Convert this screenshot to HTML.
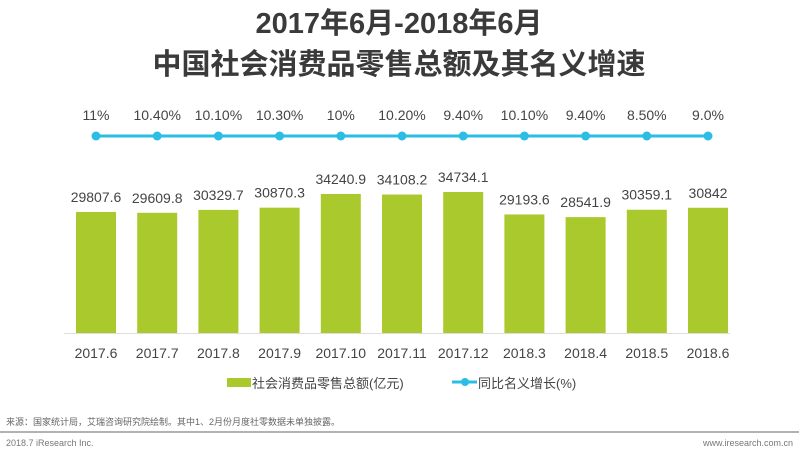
<!DOCTYPE html>
<html><head><meta charset="utf-8"><style>
body{margin:0;background:#fff;width:799px;height:458px;overflow:hidden;font-family:"Liberation Sans","Noto Sans CJK SC",sans-serif;}
</style></head><body>
<svg width="799" height="458" xmlns="http://www.w3.org/2000/svg" font-family="Liberation Sans, Noto Sans CJK SC, sans-serif">
<text x="399" y="33" text-anchor="middle" font-size="29" font-weight="bold" fill="#3a3a3a">2017年6月-2018年6月</text>
<text x="399" y="74" text-anchor="middle" font-size="29" font-weight="bold" fill="#3a3a3a">中国社会消费品零售总额及其名义增速</text>
<line x1="96" y1="136" x2="708" y2="136" stroke="#2bbde3" stroke-width="3"/>
<g id="c"></g>
<line x1="64" y1="333.5" x2="730" y2="333.5" stroke="#ddd" stroke-width="1"/>
<rect x="227" y="378" width="24" height="9" fill="#a9c92d"/>
<text x="252" y="388" font-size="13" fill="#444">社会消费品零售总额(亿元)</text>
<line x1="452" y1="382" x2="477" y2="382" stroke="#2bbde3" stroke-width="3"/>
<circle cx="465" cy="382" r="4" fill="#2bbde3"/>
<text x="478" y="388" font-size="13" fill="#444">同比名义增长(%)</text>
<text x="6" y="425" font-size="9" fill="#666">来源：国家统计局，艾瑞咨询研究院绘制。其中1、2月份月度社零数据未单独披露。</text>
<line x1="0" y1="432" x2="799" y2="432" stroke="#999" stroke-width="1.5"/>
<text x="6" y="446" font-size="9" fill="#777">2018.7 iResearch Inc.</text>
<text x="793" y="446" font-size="9" fill="#777" text-anchor="end">www.iresearch.com.cn</text>
</svg>
<script>
var v=[29807.6,29609.8,30329.7,30870.3,34240.9,34108.2,34734.1,29193.6,28541.9,30359.1,30842];
var vl=["29807.6","29609.8","30329.7","30870.3","34240.9","34108.2","34734.1","29193.6","28541.9","30359.1","30842"];
var p=["11%","10.40%","10.10%","10.30%","10%","10.20%","9.40%","10.10%","9.40%","8.50%","9.0%"];
var x=["2017.6","2017.7","2017.8","2017.9","2017.10","2017.11","2017.12","2018.3","2018.4","2018.5","2018.6"];
var s="";
for(var i=0;i<11;i++){var cx=96+i*61.2,h=v[i]*0.00406,t=333-h;
s+='<rect x="'+(cx-20)+'" y="'+t+'" width="40" height="'+h+'" fill="#a9c92d"/>';
s+='<text x="'+cx+'" y="'+(t-10)+'" text-anchor="middle" font-size="14" fill="#444">'+vl[i]+'</text>';
s+='<circle cx="'+cx+'" cy="136" r="4.5" fill="#2bbde3"/>';
s+='<text x="'+cx+'" y="120" text-anchor="middle" font-size="14" fill="#444">'+p[i]+'</text>';
s+='<text x="'+cx+'" y="358" text-anchor="middle" font-size="14" fill="#444">'+x[i]+'</text>';}
document.getElementById("c").innerHTML=s;
</script>
</body></html>
